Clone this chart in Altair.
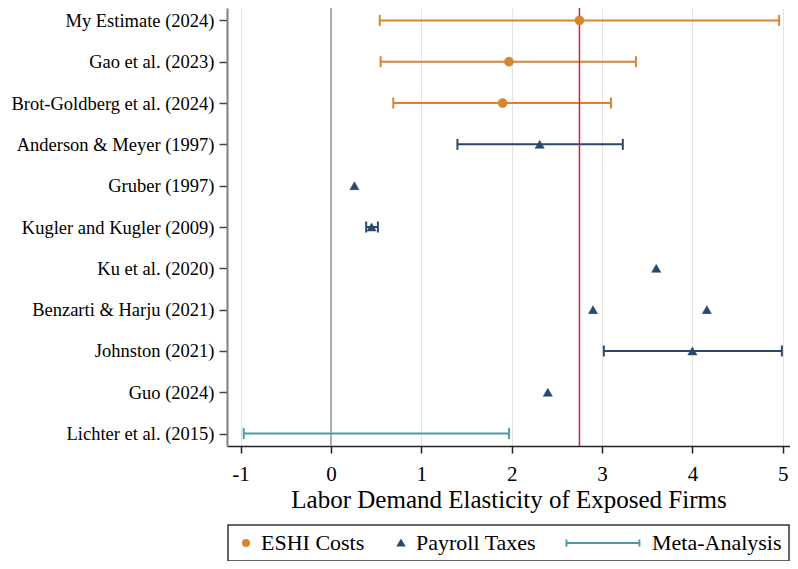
import altair as alt
import pandas as pd

# ---------------- data ----------------
studies = [
    "My Estimate (2024)", "Gao et al. (2023)", "Brot-Goldberg et al. (2024)",
    "Anderson & Meyer (1997)", "Gruber (1997)", "Kugler and Kugler (2009)",
    "Ku et al. (2020)", "Benzarti & Harju (2021)", "Johnston (2021)",
    "Guo (2024)", "Lichter et al. (2015)",
]
types = ["ESHI Costs", "Payroll Taxes", "Meta-Analysis"]
type_colors = ["#D98430", "#294A6D", "#4A9DA8"]

pt_study = [
    "My Estimate (2024)", "Gao et al. (2023)", "Brot-Goldberg et al. (2024)",
    "Anderson & Meyer (1997)", "Gruber (1997)", "Kugler and Kugler (2009)",
    "Ku et al. (2020)", "Benzarti & Harju (2021)", "Benzarti & Harju (2021)",
    "Johnston (2021)", "Guo (2024)",
]
pt_value = [2.75, 1.97, 1.90, 2.31, 0.26, 0.45, 3.60, 2.90, 4.16, 4.00, 2.40]
pt_type = ["ESHI Costs"] * 3 + ["Payroll Taxes"] * 8

ci_study = [
    "My Estimate (2024)", "Gao et al. (2023)", "Brot-Goldberg et al. (2024)",
    "Anderson & Meyer (1997)", "Kugler and Kugler (2009)", "Johnston (2021)",
    "Lichter et al. (2015)",
]
ci_low = [0.54, 0.55, 0.69, 1.40, 0.39, 3.02, -0.965]
ci_high = [4.96, 3.375, 3.10, 3.23, 0.52, 4.99, 1.97]
ci_type = ["ESHI Costs"] * 3 + ["Payroll Taxes"] * 3 + ["Meta-Analysis"]

benchmark = [2.75]
zero_line = [0]
x_ticks = [-1, 0, 1, 2, 3, 4, 5]
x_domain = [-1.15, 5.08]

# ---------------- tables ----------------
color_of = dict(zip(types, type_colors))
pts = pd.DataFrame({"study": pt_study, "value": pt_value, "type": pt_type})
cis = pd.DataFrame({"study": ci_study, "lo": ci_low, "hi": ci_high, "type": ci_type})
cis["clr"] = cis["type"].map(color_of)
bench = pd.DataFrame({"x": benchmark})
zero = pd.DataFrame({"x": zero_line})

FONT = "Liberation Serif"

META_PATH = "M-23.5,-1.2L-23.5,1.2M-23.5,0L0.8,0M0.8,-1.2L0.8,1.2"
shapes = ["circle", "triangle-up", META_PATH]

x_axis = alt.Axis(
    values=x_ticks, grid=True, gridColor="#e4e4e4", gridWidth=1,
    domainColor="#222222", domainWidth=1.5, tickColor="#222222", tickWidth=1.5,
    tickSize=7, labelFont=FONT, labelFontSize=21, labelColor="black",
    labelPadding=10, labelFlush=False, labelOverlap=False,
    labelExpr="datum.value < 0 ? '-' + abs(datum.value) : '' + datum.value",
    title="Labor Demand Elasticity of Exposed Firms", titleFont=FONT,
    titleFontSize=25, titleFontWeight="normal", titleColor="black", titlePadding=3,
)
y_axis = alt.Axis(
    grid=False, domainColor="#7f7f7f", domainWidth=2, tickColor="#444444",
    tickWidth=1.5, tickSize=8, labelFont=FONT, labelFontSize=18.5,
    labelColor="black", labelPadding=5, labelLimit=300, title=None,
)

X = lambda f: alt.X(f, scale=alt.Scale(domain=x_domain, nice=False, zero=False), axis=x_axis)
Y = alt.Y("study:N", scale=alt.Scale(domain=studies, type="point", padding=0.3), axis=y_axis)
col = alt.Color("clr:N", scale=None)

pad = "\u00a0" * 15
legend = alt.Legend(
    title=None, orient="none", legendX=1, legendY=517, direction="horizontal",
    columns=3, symbolSize=36, symbolStrokeWidth=2, symbolOpacity=1,
    labelFont=FONT, labelFontSize=22, labelColor="black", labelOffset=4,
    columnPadding=25, padding=7, strokeColor="#333333", labelLimit=500,
    symbolOffset=0,
    labelExpr=f"datum.label == 'Payroll Taxes' ? datum.label + '{pad}' : datum.label",
)

zero_rule = alt.Chart(zero).mark_rule(color="#9a9a9a", strokeWidth=1.5).encode(x=X("x:Q"))

ci_rules = alt.Chart(cis).mark_rule(strokeWidth=2).encode(
    x=X("lo:Q"), x2="hi:Q", y=Y, color=col
)
caps = alt.Chart(cis).transform_fold(["lo", "hi"], as_=["end", "xv"]).mark_tick(
    thickness=2, size=11, opacity=1
).encode(x=X("xv:Q"), y=Y, color=col)

bench_rule = alt.Chart(bench).mark_rule(color="#D4203F", strokeWidth=1.5).encode(x=X("x:Q"))

points = alt.Chart(pts).mark_point(filled=True, size=85, opacity=1, strokeWidth=0.5).encode(
    x=X("value:Q"), y=Y,
    fill=alt.Fill("type:N", scale=alt.Scale(domain=types, range=type_colors), legend=legend),
    stroke=alt.Stroke("type:N", scale=alt.Scale(domain=types, range=type_colors), legend=legend),
    shape=alt.Shape("type:N", scale=alt.Scale(domain=types, range=shapes), legend=legend),
)

chart = alt.layer(zero_rule, ci_rules, caps, bench_rule, points).properties(
    width=563, height=438,
    autosize=alt.AutoSizeParams(type="none"),
    padding={"left": 219, "top": 0, "right": 0, "bottom": 115},
).configure_view(stroke=None).configure_legend(strokeWidth=1.5)

chart.save("out.html", embed_options={"renderer": "svg", "actions": False})
